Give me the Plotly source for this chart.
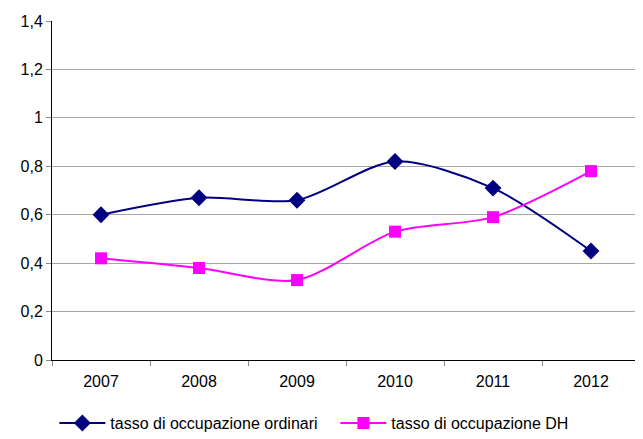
import plotly.graph_objects as go

# Data
anni = ['2007', '2008', '2009', '2010', '2011', '2012']
ordinari = [0.60, 0.67, 0.66, 0.82, 0.71, 0.45]
dh = [0.42, 0.38, 0.33, 0.53, 0.59, 0.78]
y_ticks = [0, 0.2, 0.4, 0.6, 0.8, 1, 1.2, 1.4]

fig = go.Figure()
fig.add_trace(go.Scatter(
    x=anni, y=ordinari, name='tasso di occupazione ordinari',
    mode='lines+markers', line=dict(color='#000080', width=2, shape='spline', smoothing=0.8),
    marker=dict(symbol='diamond', size=13, color='#000080')))
fig.add_trace(go.Scatter(
    x=anni, y=dh, name='tasso di occupazione DH',
    mode='lines+markers', line=dict(color='#FF00FF', width=2, shape='spline', smoothing=0.8),
    marker=dict(symbol='square', size=12, color='#FF00FF')))

# page body adds 8px offset, so figure is sized to fit the window
fig.update_layout(
    width=635, height=431,
    margin=dict(l=44, r=3, t=13, b=79, autoexpand=False),
    plot_bgcolor='white', paper_bgcolor='white',
    separators=',.',
    font=dict(family='Liberation Sans, Arial', size=16, color='black'),
    showlegend=True,
    legend=dict(orientation='h', x=0.004, y=-0.186, xanchor='left', yanchor='middle',
                itemwidth=46, entrywidth=220, entrywidthmode='pixels', font=dict(size=16)),
)
fig.update_xaxes(type='category', showline=True, linecolor='black', linewidth=1,
                 ticks='outside', tickson='boundaries', ticklen=5, tickcolor='#888888',
                 ticklabelstandoff=7,
                 showgrid=False, range=[-0.5, 5.5], automargin=False)
fig.update_yaxes(range=[0, 1.4], tickvals=y_ticks, showline=True, linecolor='black', linewidth=1,
                 ticks='outside', ticklen=5, tickcolor='#888888', automargin=False,
                 showgrid=True, gridcolor='#a6a6a6', gridwidth=1, zeroline=False)

fig.write_html("out.html")
